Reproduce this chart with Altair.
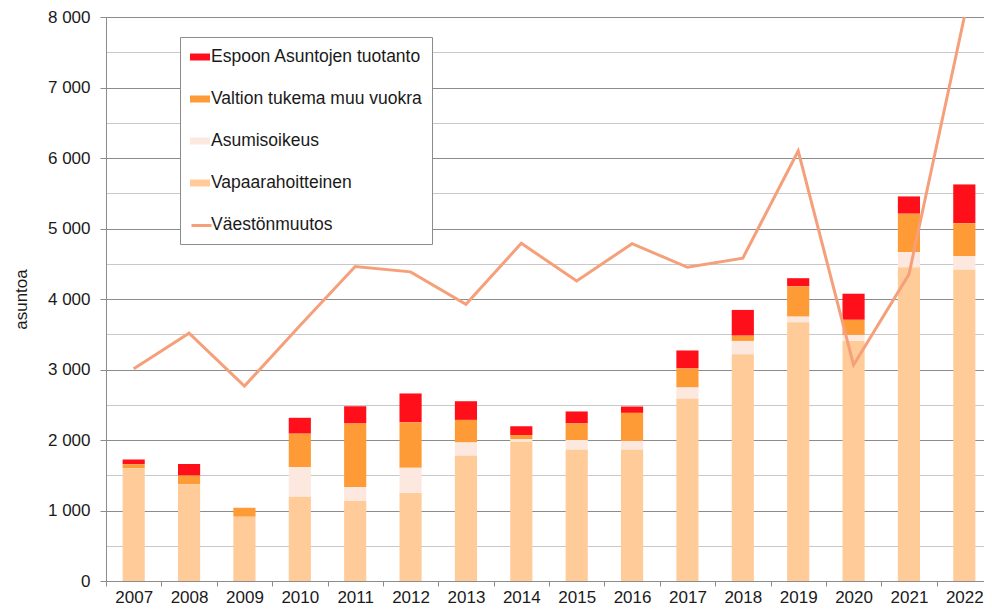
import altair as alt
import pandas as pd

years = [str(y) for y in range(2007, 2023)]
vapaarahoitteinen = [1600, 1370, 910, 1195, 1135, 1250, 1775, 1975, 1860, 1860, 2585, 3215, 3670, 3405, 4450, 4415]
asumisoikeus = [0, 0, 0, 420, 200, 355, 190, 35, 140, 125, 160, 190, 80, 85, 215, 195]
valtion_vuokra = [55, 125, 130, 475, 900, 645, 320, 60, 235, 400, 270, 75, 430, 215, 545, 465]
espoon_asunnot = [70, 165, 0, 225, 245, 410, 265, 125, 170, 90, 255, 365, 115, 370, 245, 550]
vaestonmuutos = [3010, 3515, 2765, 3620, 4460, 4385, 3925, 4790, 4255, 4785, 4450, 4580, 6100, 3065, 4350, 8000]

series_names = ["Espoon Asuntojen tuotanto", "Valtion tukema muu vuokra", "Asumisoikeus", "Vapaarahoitteinen"]
line_name = "Väestönmuutos"
bar_colors = ["#FF0F1A", "#FF9B37", "#FCE8DE", "#FFCC99"]
line_color = "#F5A07A"
stack_rank = [3, 2, 1, 0]
series_values = [espoon_asunnot, valtion_vuokra, asumisoikeus, vapaarahoitteinen]

rows = []
for name, rank, vals in zip(series_names, stack_rank, series_values):
    for yr, v in zip(years, vals):
        rows.append({"vuosi": yr, "sarja": name, "asuntoja": v, "jarjestys": rank})
bars_df = pd.DataFrame(rows)
line_df = pd.DataFrame({"vuosi": years, "sarja": line_name, "asuntoja": vaestonmuutos})

FONT = "Liberation Sans"
FS = 17
LFS = 17.5
TXT = "#1a1a1a"
GRID_MAJOR = "#8c8c8c"
GRID_MINOR = "#c8c8c8"

x_axis = alt.Axis(labelAngle=0, tickBand="extent", title=None, labelFont=FONT, labelFontSize=FS,
                  labelColor=TXT, labelPadding=3, tickSize=5, tickColor=GRID_MAJOR,
                  domainColor=GRID_MAJOR, grid=False)
x_scale = alt.Scale(paddingInner=0, paddingOuter=0)

y_axis = alt.Axis(
    title="asuntoa", titleFont=FONT, titleFontSize=FS, titleFontWeight="normal", titleColor=TXT,
    titleX=-85, titleY=282, titleBaseline="middle", titleAngle=270,
    values=list(range(0, 8001, 500)),
    labelExpr="datum.value % 1000 === 0 ? replace(format(datum.value, ','), ',', ' ') : ''",
    labelFont=FONT, labelFontSize=FS, labelColor=TXT, labelPadding=10, labelOverlap=False,
    tickSize=6, tickColor=GRID_MAJOR,
    tickOpacity={"condition": {"test": "datum.value % 1000 === 0", "value": 1}, "value": 0},
    gridColor={"condition": {"test": "datum.value % 1000 === 0", "value": GRID_MAJOR}, "value": GRID_MINOR},
    gridWidth=1, domainColor=GRID_MAJOR,
)
y_scale = alt.Scale(domain=[0, 8000], nice=False)

bars = alt.Chart(bars_df).mark_bar(width=alt.RelativeBandSize(0.4)).encode(
    x=alt.X("vuosi:N", sort=years, scale=x_scale, axis=x_axis),
    y=alt.Y("sum(asuntoja):Q", scale=y_scale, axis=y_axis, stack="zero"),
    fill=alt.Fill(
        "sarja:N",
        scale=alt.Scale(domain=series_names + [line_name], range=bar_colors + ["transparent"]),
        legend=alt.Legend(
            orient="none", legendX=74, legendY=20, title=None, direction="vertical",
            fillColor="white", strokeColor="#8c8c8c", padding=10, rowPadding=23,
            labelFont=FONT, labelFontSize=LFS, labelColor=TXT, labelOffset=1, labelLimit=0,
            symbolType="M-1,-0.35H1V0.35H-1Z", symbolSize=400, symbolStrokeWidth=0,
        ),
    ),
    order=alt.Order("jarjestys:Q", sort="ascending"),
)

line = alt.Chart(line_df).mark_line(strokeWidth=3).encode(
    x=alt.X("vuosi:N", sort=years, scale=x_scale, axis=x_axis),
    y=alt.Y("asuntoja:Q", scale=y_scale, axis=y_axis),
    stroke=alt.Stroke(
        "sarja:N",
        scale=alt.Scale(domain=[line_name], range=[line_color]),
        legend=alt.Legend(
            orient="none", legendX=84, legendY=197, title=None, padding=0,
            symbolType="stroke", symbolSize=400, symbolStrokeWidth=3, labelExpr="''",
        ),
    ),
)

chart = alt.layer(bars, line).properties(
    width=886, height=564,
    autosize=alt.AutoSizeParams(type="none"),
    padding={"left": 98, "top": 9, "right": -8, "bottom": 24},
).configure_view(stroke=None).configure(background="white")

chart.save("out.html", embed_options={"renderer": "svg", "actions": False})
